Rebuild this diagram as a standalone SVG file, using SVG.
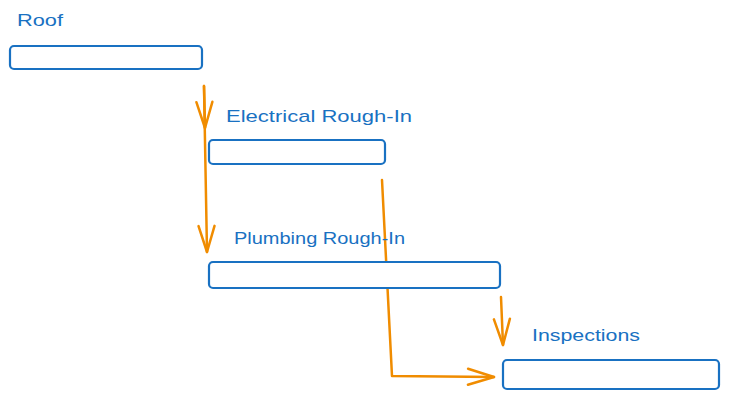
<svg xmlns="http://www.w3.org/2000/svg" width="730" height="400" viewBox="0 0 730 400">
<style>
.bar{fill:#ffffff;stroke:#1971c2;stroke-width:2.2;}
.lbl{font-family:"Liberation Sans",Arial,sans-serif;font-size:17px;fill:#1971c2;}
.con{fill:none;stroke:#f08c00;stroke-width:2.5;stroke-linecap:round;stroke-linejoin:round;}
</style>
<defs>
<marker id="ah" viewBox="0 0 30 20" refX="28" refY="10" markerWidth="30" markerHeight="20" markerUnits="userSpaceOnUse" orient="auto">
<path d="M2,2 L28,10 L2,18" fill="none" stroke="#f08c00" stroke-width="2.5" stroke-linecap="round" stroke-linejoin="round"/>
</marker>
</defs>
<rect width="730" height="400" fill="#ffffff"/>
<g id="connectors">
<path class="con" d="M204,86 L205,128" marker-end="url(#ah)"/>
<path class="con" d="M204,86 L207,252" marker-end="url(#ah)"/>
<path class="con" d="M382,180 L392,376 L494,377" marker-end="url(#ah)"/>
<path class="con" d="M501,297 L503,345" marker-end="url(#ah)"/>
</g>
<g id="roof">
<text class="lbl" x="17" y="26" textLength="46" lengthAdjust="spacingAndGlyphs">Roof</text>
<rect class="bar" x="10" y="46" width="192" height="23" rx="4"/>
</g>
<g id="electrical">
<text class="lbl" x="226" y="122" textLength="186" lengthAdjust="spacingAndGlyphs">Electrical Rough-In</text>
<rect class="bar" x="209" y="140" width="176" height="24" rx="4"/>
</g>
<g id="plumbing">
<text class="lbl" x="234" y="244" textLength="171" lengthAdjust="spacingAndGlyphs">Plumbing Rough-In</text>
<rect class="bar" x="209" y="262" width="291" height="26" rx="4"/>
</g>
<g id="inspections">
<text class="lbl" x="532" y="341" textLength="108" lengthAdjust="spacingAndGlyphs">Inspections</text>
<rect class="bar" x="503" y="360" width="216" height="29" rx="4"/>
</g>
</svg>
